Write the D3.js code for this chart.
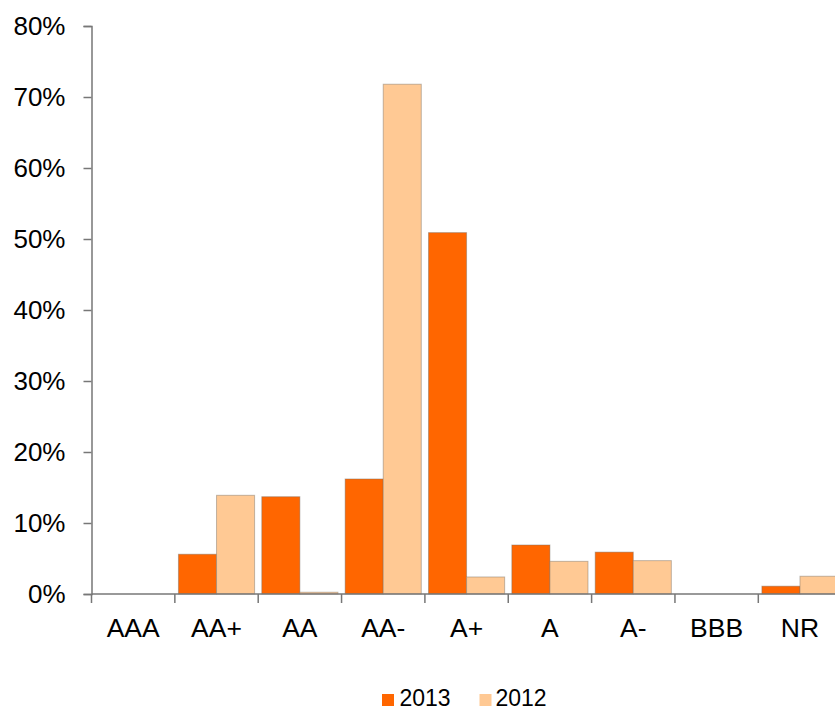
<!DOCTYPE html>
<html>
<head>
<meta charset="utf-8">
<script src="https://cdn.jsdelivr.net/npm/d3@7"></script>
<style>
  html, body { margin: 0; padding: 0; background: #fff; }
  svg { display: block; }
  text { font-family: "Liberation Sans", Arial, sans-serif; fill: #000; }
</style>
</head>
<body>
<script>
const categories = ["AAA", "AA+", "AA", "AA-", "A+", "A", "A-", "BBB", "NR"];
const seriesNames = ["2013", "2012"];
const values2013 = [0, 5.6, 13.7, 16.2, 50.9, 6.9, 5.9, 0, 1.1];
const values2012 = [0, 13.9, 0.25, 71.8, 2.4, 4.6, 4.7, 0, 2.5];
const yTicks = [0, 10, 20, 30, 40, 50, 60, 70, 80];
const colors = ["#FF6600", "#FFC994"];

const W = 835, H = 709;
const svg = d3.select("body").append("svg").attr("width", W).attr("height", H);

const x0 = 91.5, y0 = 594, yTop = 26;
const step = 83.35;
const x = d3.scaleBand().domain(categories).range([x0, x0 + step * categories.length]).padding(0);
const xInner = d3.scaleBand().domain(seriesNames).range([3.6, step - 3.6]).padding(0);
const y = d3.scaleLinear().domain([0, 80]).range([y0, yTop]);

const data = categories.map((c, i) => ({ cat: c, vals: [values2013[i], values2012[i]] }));

// bars
const g = svg.append("g");
data.forEach(d => {
  d.vals.forEach((v, j) => {
    if (v <= 0) return;
    g.append("rect")
      .attr("x", x(d.cat) + xInner(seriesNames[j]))
      .attr("y", y(v))
      .attr("width", xInner.bandwidth())
      .attr("height", y0 - y(v))
      .attr("fill", colors[j])
      .attr("stroke", "rgba(120,110,100,0.45)")
      .attr("stroke-width", 1);
  });
});

// y axis
const yAxis = d3.axisLeft(y).tickValues(yTicks).tickSize(8).tickPadding(18).tickFormat(d => d + "%");
const ya = svg.append("g").attr("transform", `translate(${x0},0)`).call(yAxis);
ya.select(".domain").attr("stroke", "#777").attr("stroke-width", 1.5);
ya.selectAll(".tick line").attr("stroke", "#777").attr("stroke-width", 1.5);
ya.selectAll(".tick text").style("font-size", "26px").style("font-family", '"Liberation Sans", Arial, sans-serif').attr("fill", "#000");

// x axis (ticks at category boundaries)
const xa = svg.append("g").attr("transform", `translate(0,${y0})`);
xa.append("line").attr("x1", x0).attr("x2", x0 + step * categories.length).attr("y1", 0).attr("y2", 0)
  .attr("stroke", "#777").attr("stroke-width", 1.5);
const bounds = d3.range(categories.length + 1).map(i => x0 + i * step);
xa.selectAll("line.tk").data(bounds).enter().append("line").attr("class", "tk")
  .attr("x1", d => d).attr("x2", d => d).attr("y1", 0).attr("y2", 9)
  .attr("stroke", "#777").attr("stroke-width", 1.5);
xa.selectAll("text").data(categories).enter().append("text")
  .attr("x", d => x(d) + x.bandwidth() / 2)
  .attr("y", 43)
  .attr("text-anchor", "middle")
  .style("font-size", "26.5px")
  .text(d => d);

// legend
const legend = svg.append("g");
const legendItems = [
  { name: seriesNames[0], color: colors[0], sx: 382, tx: 399.5 },
  { name: seriesNames[1], color: colors[1], sx: 479.5, tx: 495.5 }
];
legendItems.forEach(it => {
  legend.append("rect").attr("x", it.sx).attr("y", 694).attr("width", 12).attr("height", 12).attr("fill", it.color);
  legend.append("text").attr("x", it.tx).attr("y", 705.5).style("font-size", "23px").text(it.name);
});
</script>
</body>
</html>
